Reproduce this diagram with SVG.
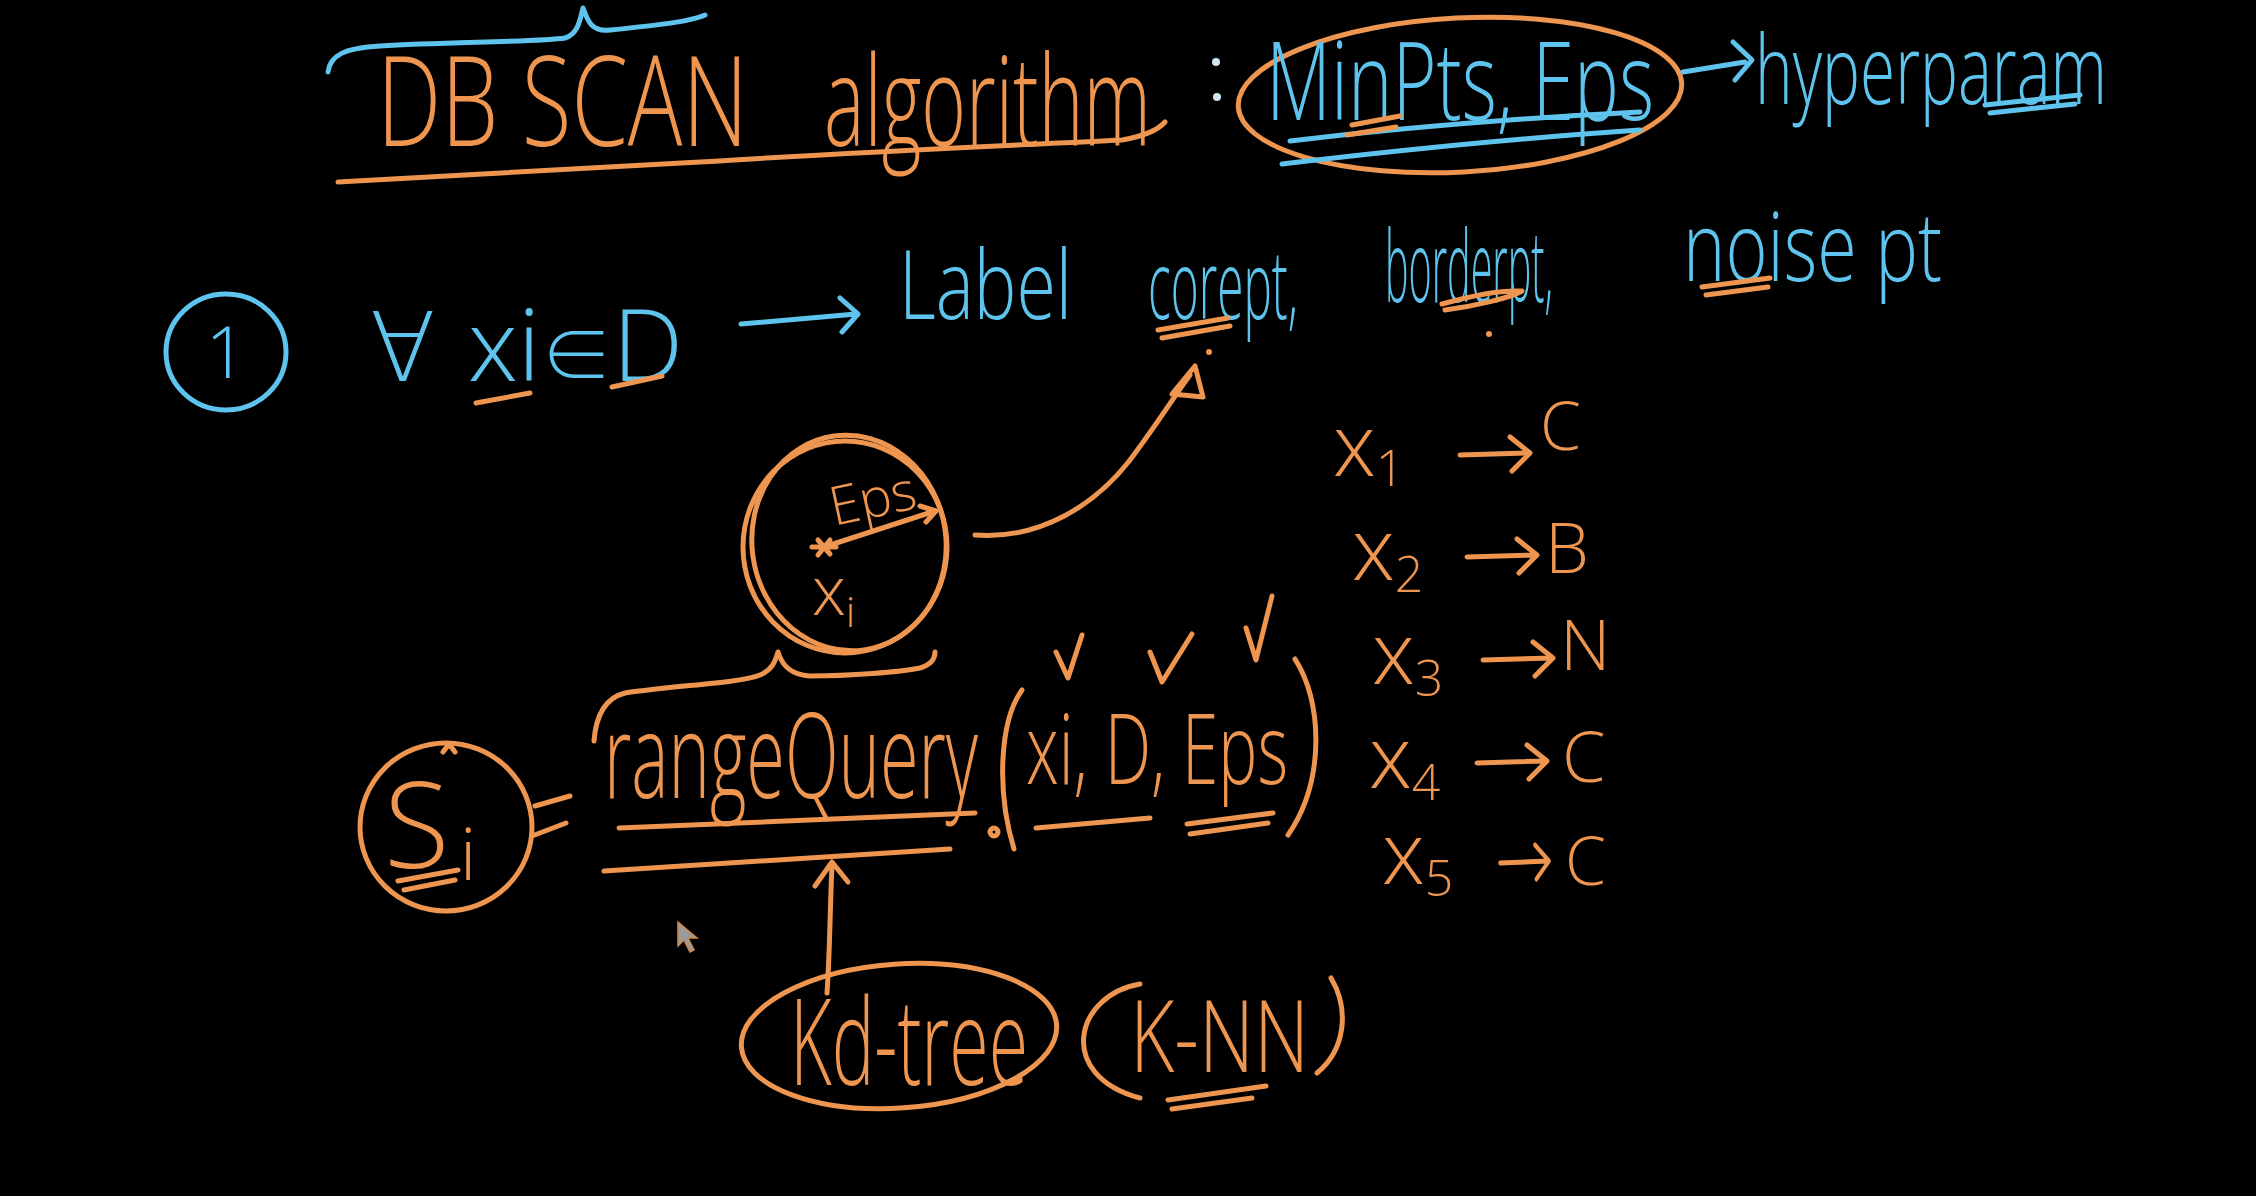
<svg xmlns="http://www.w3.org/2000/svg" width="2256" height="1196" viewBox="0 0 2256 1196">
<defs>
<style>
.o{fill:none;stroke:#EE9550;stroke-width:5;stroke-linecap:round;stroke-linejoin:round}
.b{fill:none;stroke:#5EC4EE;stroke-width:5;stroke-linecap:round;stroke-linejoin:round}
.to{fill:#EE9550;font-family:"Open Sans","Liberation Sans",sans-serif;font-weight:300}
.tb{fill:#5EC4EE;font-family:"Open Sans","Liberation Sans",sans-serif;font-weight:300}
.sym{font-family:"DejaVu Sans","Noto Sans",sans-serif;font-weight:200}
.el{font-family:"Noto Sans CJK JP","DejaVu Sans",sans-serif;font-weight:300}
</style>
<path id="arr" d="M0,0 L68,-2 M50,-18 L70,-2 L52,16"/>
</defs>
<rect width="2256" height="1196" fill="#000"/>

<g id="title">
<path class="b" d="M328,72 C330,55 345,48 380,46 C450,42 540,42 565,38 C578,34 580,20 583,8 C588,22 592,32 610,30 C650,26 690,22 705,15"/>
<text class="to" x="377" y="146" font-size="125" textLength="371" lengthAdjust="spacingAndGlyphs">DB SCAN</text>
<text class="to" x="824" y="146" font-size="125" textLength="327" lengthAdjust="spacingAndGlyphs">algorithm</text>
<path class="o" d="M338,182 C450,176 575,170 700,162 C860,152 1000,146 1122,140 C1145,136 1158,130 1165,122"/>
<circle cx="1216" cy="62" r="4" fill="#CFE6F0"/>
<circle cx="1217" cy="97" r="4" fill="#CFE6F0"/>
</g>

<g id="hyperparams">
<ellipse class="o" cx="1460" cy="95" rx="222" ry="77" transform="rotate(-3 1460 95)"/>
<text class="tb" x="1266" y="120" font-size="108" textLength="388" lengthAdjust="spacingAndGlyphs">MinPts, Eps</text>
<path class="b" d="M1290,141 C1400,128 1520,118 1640,112"/>
<path class="b" d="M1282,164 C1400,150 1520,138 1640,130"/>
<path class="o" d="M1352,125 L1400,116 M1347,135 L1396,127"/>
<path class="b" d="M1683,72 L1745,62 M1733,42 L1752,60 L1735,80"/>
<text class="tb" x="1755" y="104" font-size="96" textLength="352" lengthAdjust="spacingAndGlyphs">hyperparam</text>
<path class="b" d="M1985,105 L2080,95 M1990,113 L2075,104"/>
</g>

<g id="step1">
<ellipse class="b" cx="226" cy="352" rx="60" ry="58"/>
<text class="tb" x="226" y="378" font-size="72" text-anchor="middle">1</text>
<text class="tb sym" x="370" y="381" font-size="96">∀</text>
<text class="tb" x="468" y="381" font-size="100">xi<tspan class="el" font-size="72">∈</tspan>D</text>
<path class="o" d="M476,403 L530,393 M612,387 L662,376"/>
<path class="b" d="M741,324 L856,314 M840,298 L858,314 L842,332"/>
<text class="tb" x="899" y="319" font-size="95" textLength="173" lengthAdjust="spacingAndGlyphs">Label</text>
<text class="tb" x="1148" y="319" font-size="95" textLength="150" lengthAdjust="spacingAndGlyphs">corept,</text>
<text class="tb" x="1385" y="302" font-size="100" textLength="168" lengthAdjust="spacingAndGlyphs">borderpt,</text>
<text class="tb" x="1683" y="281" font-size="95" textLength="259" lengthAdjust="spacingAndGlyphs">noise pt</text>
<path class="o" d="M1158,330 L1228,318 M1162,338 L1230,326"/>
<path class="o" d="M1442,304 C1470,296 1500,290 1522,291 C1510,298 1475,306 1445,310"/>
<path class="o" d="M1702,287 L1770,278 M1706,295 L1768,287"/>
<circle cx="1209" cy="352" r="3" fill="#EE9550"/>
<circle cx="1489" cy="334" r="3" fill="#EE9550"/>
</g>

<g id="eps-circle">
<ellipse class="o" cx="845" cy="547" rx="102" ry="106"/>
<ellipse class="o" cx="849" cy="543" rx="97" ry="108" transform="rotate(-8 849 543)"/>
<path class="o" d="M818,540 L830,554 M830,540 L818,555 M812,547 L836,547"/>
<path class="o" d="M824,547 L935,511 M920,506 L936,511 L926,522"/>
<text class="to" x="834" y="526" font-size="54" transform="rotate(-12 834 526)">Eps</text>
<text class="to" x="812" y="615" font-size="68">x<tspan font-size="42" dy="12">i</tspan></text>
<path class="o" d="M975,535 C1040,540 1095,505 1130,460 C1160,420 1175,395 1190,375"/>
<path class="o" d="M1172,394 L1195,366 L1203,397 Z"/>
</g>

<g id="brace">
<path class="o" d="M594,741 C596,715 605,698 625,693 C680,685 740,683 760,675 C772,670 775,662 778,652 C782,665 790,675 810,676 C850,676 900,672 920,668 C930,665 935,660 935,652"/>
</g>

<g id="rangequery">
<ellipse class="o" cx="446" cy="827" rx="86" ry="84"/>
<path class="o" d="M443,752 L449,744 L455,752"/>
<text class="to" x="384" y="868" font-size="120">S</text>
<text class="to" x="460" y="880" font-size="72">i</text>
<path class="o" d="M398,881 L458,870 M404,890 L455,880"/>
<path class="o" d="M535,806 L570,796 M532,836 L566,823"/>
<text class="to" x="604" y="798" font-size="118" textLength="374" lengthAdjust="spacingAndGlyphs">rangeQuery</text>
<path class="o" d="M619,828 L975,813 M604,871 L950,849"/>
<circle class="o" cx="994" cy="832" r="4" stroke-width="3"/>
<path class="o" d="M1022,690 C1000,720 996,790 1014,849"/>
<text class="to" x="1026" y="784" font-size="98" textLength="262" lengthAdjust="spacingAndGlyphs">xi, D, Eps</text>
<path class="o" d="M1295,659 C1322,700 1326,780 1288,835"/>
<path class="o" d="M1056,652 L1068,678 L1082,635 M1150,652 L1162,682 L1192,634 M1246,628 L1256,660 L1272,596"/>
<path class="o" d="M1036,828 L1150,818 M1187,824 L1273,813 M1190,834 L1268,823"/>
</g>

<g id="kdtree">
<path class="o" d="M827,993 C830,950 830,905 832,866 M815,886 L832,862 L848,882"/>
<ellipse class="o" cx="899" cy="1036" rx="158" ry="72" transform="rotate(-4 899 1036)"/>
<text class="to" x="790" y="1085" font-size="120" textLength="238" lengthAdjust="spacingAndGlyphs">Kd-tree</text>
<path class="o" d="M1140,984 C1075,995 1055,1075 1140,1098"/>
<text class="to" x="1130" y="1072" font-size="100" textLength="179" lengthAdjust="spacingAndGlyphs">K-NN</text>
<path class="o" d="M1331,978 C1350,1010 1345,1050 1317,1073"/>
<path class="o" d="M1168,1100 L1266,1086 M1172,1109 L1252,1098"/>
</g>

<g id="labels-list">
<text class="to" x="1333" y="476" font-size="86">x<tspan font-size="50" dy="10">1</tspan></text>
<use href="#arr" class="o" transform="translate(1460,455)"/>
<text class="to" x="1540" y="450" font-size="66">C</text>
<text class="to" x="1352" y="580" font-size="86">x<tspan font-size="50" dy="12">2</tspan></text>
<use href="#arr" class="o" transform="translate(1467,557)"/>
<text class="to" x="1545" y="573" font-size="70">B</text>
<text class="to" x="1372" y="684" font-size="86">x<tspan font-size="50" dy="12">3</tspan></text>
<use href="#arr" class="o" transform="translate(1483,660)"/>
<text class="to" x="1560" y="670" font-size="70">N</text>
<text class="to" x="1369" y="788" font-size="86">x<tspan font-size="50" dy="12">4</tspan></text>
<use href="#arr" class="o" transform="translate(1477,763)"/>
<text class="to" x="1562" y="782" font-size="70">C</text>
<text class="to" x="1382" y="884" font-size="86">x<tspan font-size="50" dy="12">5</tspan></text>
<use href="#arr" class="o" transform="translate(1500,863) scale(0.7 1)"/>
<text class="to" x="1565" y="885" font-size="66">C</text>
</g>

<g id="cursor">
<path d="M678,922 L678,946 L684,940 L690,952 L694,950 L688,938 L697,938 Z" fill="#9a9a9a" stroke="#d08a50" stroke-width="1.5"/>
</g>
</svg>
